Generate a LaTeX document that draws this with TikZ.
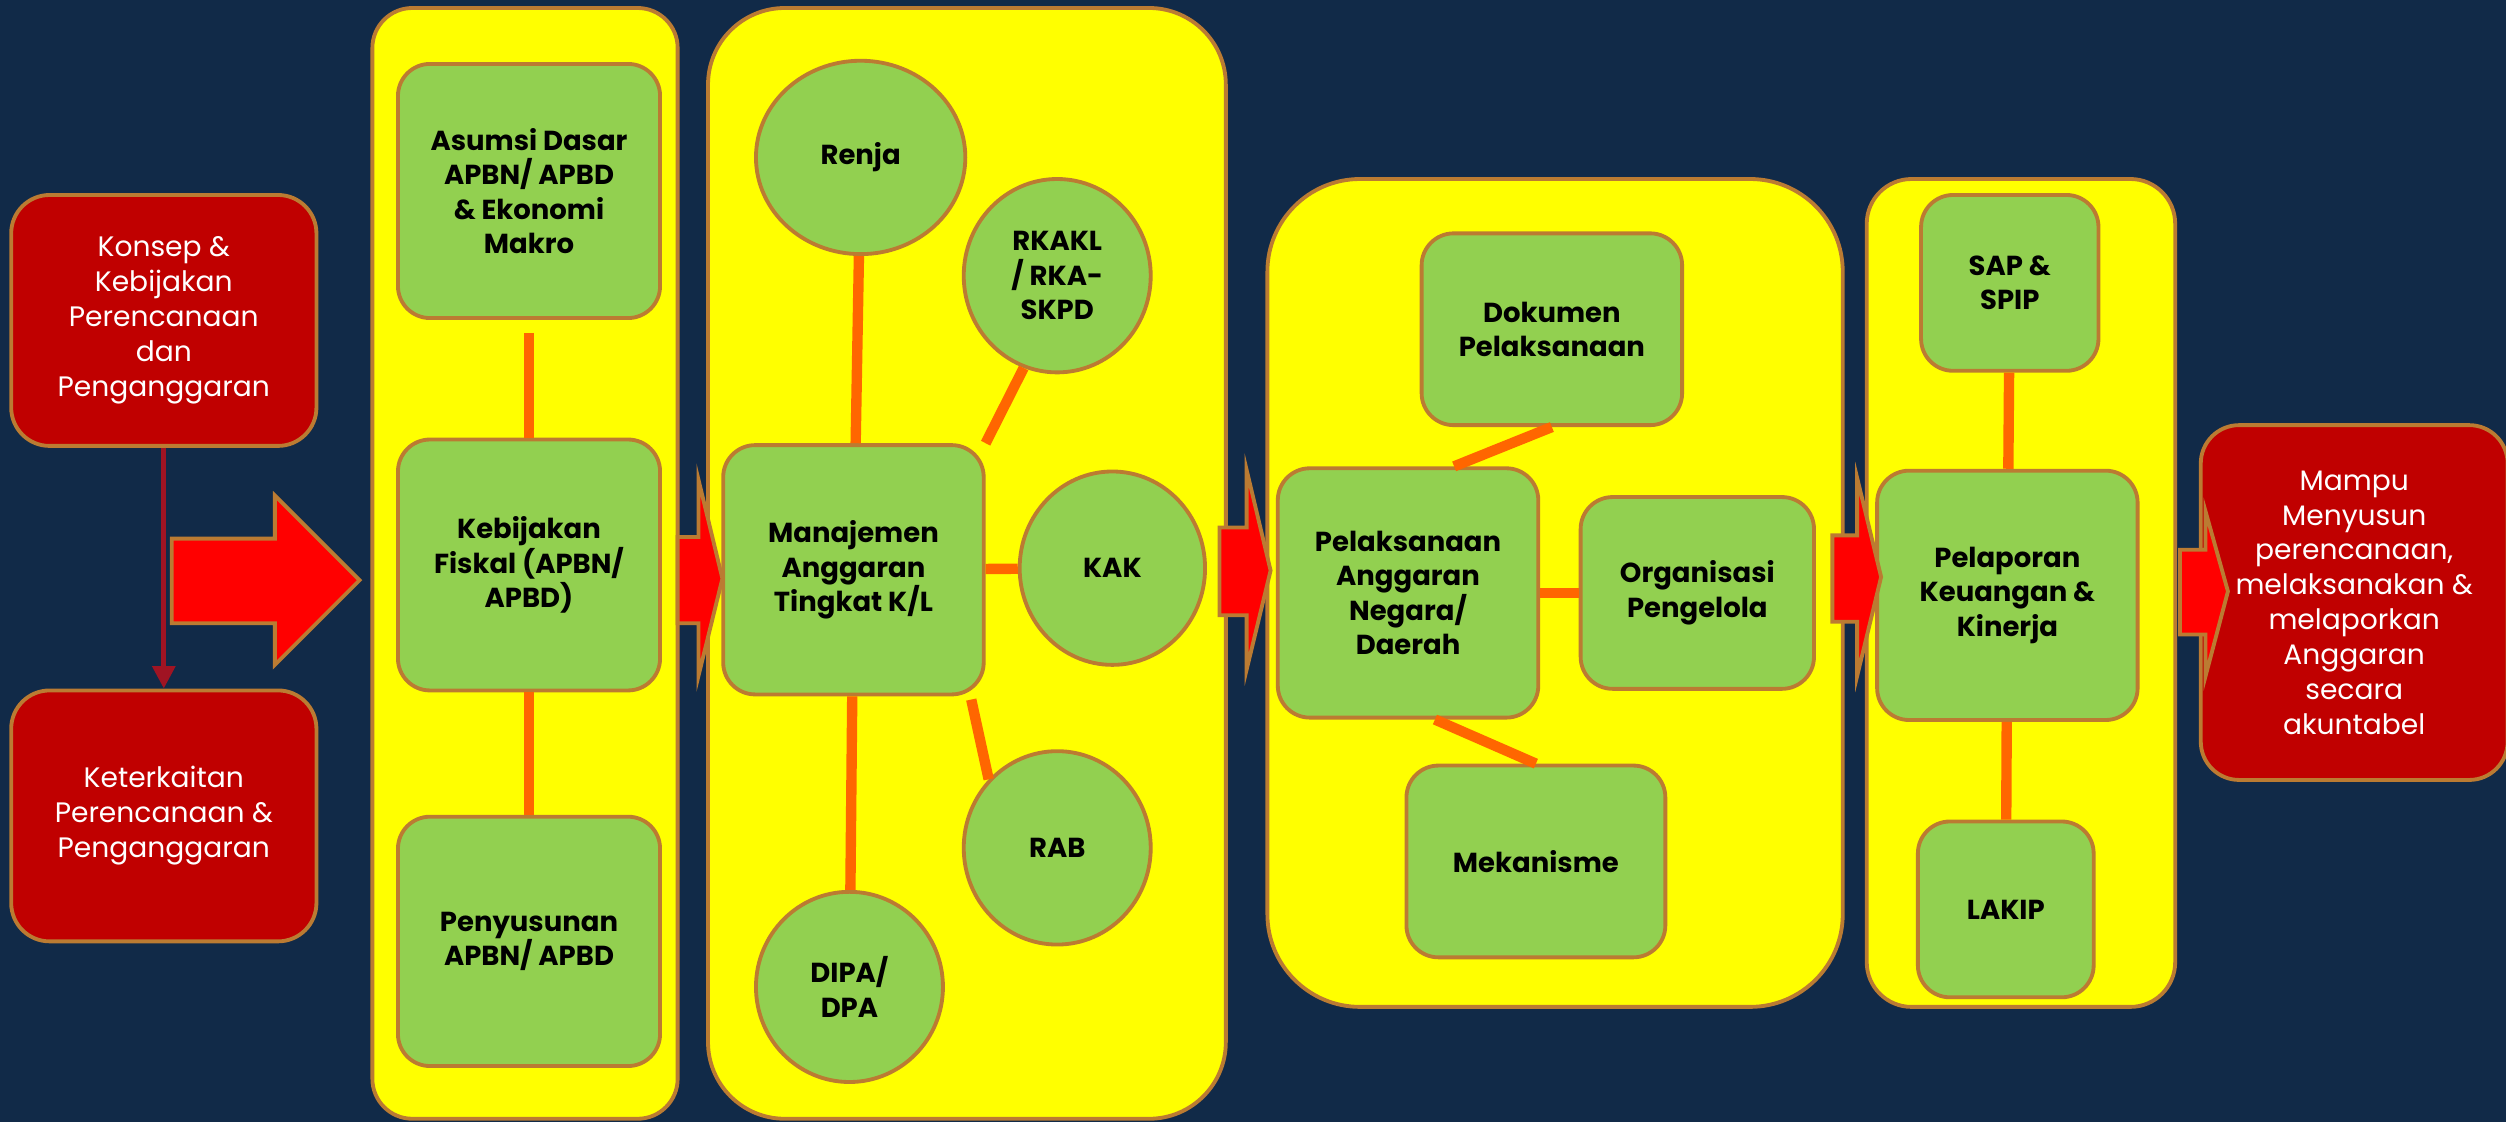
\documentclass[tikz,border=0pt]{standalone}
\usepackage{fontspec}
\setmainfont{Poppins}
\usetikzlibrary{calc,arrows.meta,shapes.geometric}
\definecolor{navy}{RGB}{17,42,72}
\definecolor{brn}{RGB}{187,123,50}
\definecolor{yel}{RGB}{255,255,0}
\definecolor{grn}{RGB}{146,208,80}
\definecolor{dred}{RGB}{192,0,0}
\definecolor{ared}{RGB}{255,0,0}
\definecolor{orng}{RGB}{255,102,0}
\definecolor{vred}{RGB}{160,20,35}
\begin{document}
\begin{tikzpicture}[x=1pt,y=-1pt,
 bord/.style={draw=brn,line width=2.4pt},
 panel/.style={bord,fill=yel},
 gtext/.style={align=center,inner sep=0pt,text=black,font=\bfseries\fontsize{17.2}{21.5}\selectfont},
 gbox/.style={bord,fill=grn,rounded corners=20pt,gtext},
 gell/.style={bord,fill=grn,ellipse,gtext},
 rbox/.style={bord,fill=dred,rounded corners=24pt,align=center,inner sep=0pt,text=white,font=\fontsize{17.6}{21.8}\selectfont},
 link/.style={draw=orng,line width=6.5pt},
 blk/.style={bord,fill=ared,line join=miter},
 sz/.style 2 args={minimum width=#1pt,minimum height=#2pt}]

\fill[navy] (0,0) rectangle (1568,702);
\useasboundingbox (0,0) rectangle (1568,702);

% panels
\draw[panel,rounded corners=25pt] (233,5) rectangle (424,700);
\draw[panel,rounded corners=48pt] (443,5) rectangle (767,700);
\draw[panel,rounded corners=58pt] (793,112) rectangle (1153,630);
\draw[panel,rounded corners=28pt] (1168,112) rectangle (1361,630);

% red boxes
\node[rbox,sz={191}{157}] (r1) at (102.5,200.5) {Konsep \&\\Kebijakan\\Perencanaan\\dan\\Penganggaran};
\node[rbox,sz={191}{157}] (r2) at (102.5,510.5) {Keterkaitan\\Perencanaan \&\\Penganggaran};
\node[rbox,sz={192}{222}] (goal) at (1473,377) {Mampu\\Menyusun\\perencanaan,\\melaksanakan \&\\melaporkan\\Anggaran\\secara\\akuntabel};

% panel 1
\node[gbox,sz={164}{159}] (asm) at (331,119.5) {Asumsi Dasar\\APBN/ APBD\\\& Ekonomi\\Makro};
\node[gbox,sz={164}{157}] (keb) at (331,353.5) {Kebijakan\\Fiskal (APBN/\\APBD)};
\node[gbox,sz={164}{156}] (pen) at (331,589) {Penyusunan\\APBN/ APBD};

% panel 2
\node[gbox,sz={163}{156}] (man) at (534,356.5) {Manajemen\\Anggaran\\Tingkat K/L};
\node[gell,sz={131}{121}] (renja) at (538.5,98.5) {Renja};
\node[gell,sz={117}{121}] (rkakl) at (661.5,172.5) {RKAKL\\/ RKA-\\SKPD};
\node[gell,sz={116}{121}] (kak) at (696,355.5) {KAK};
\node[gell,sz={117}{121}] (rab) at (661.5,530.5) {RAB};
\node[gell,sz={117}{119}] (dipa) at (531.5,617.5) {DIPA/\\DPA};

% panel 3
\node[gbox,sz={163}{120}] (dok) at (971,206) {Dokumen\\Pelaksanaan};
\node[gbox,sz={163}{156}] (pel) at (881,371) {Pelaksanaan\\Anggaran\\Negara/\\Daerah};
\node[gbox,sz={146}{120}] (org) at (1062,371) {Organisasi\\Pengelola};
\node[gbox,sz={162}{120}] (mek) at (961,539) {Mekanisme};

% panel 4
\node[gbox,sz={111}{110}] (sap) at (1257.5,177) {SAP \&\\SPIP};
\node[gbox,sz={163}{156}] (lap) at (1256,372.5) {Pelaporan\\Keuangan \&\\Kinerja};
\node[gbox,sz={110}{110}] (lakip) at (1255,569) {LAKIP};

% connectors
\draw[link,shorten <=8pt] (asm) -- (keb);
\draw[link] (keb) -- (pen);
\draw[link] (renja) -- (man);
\draw[link] (rkakl.250) -- (man.north east);
\draw[link] (kak) -- (man);
\draw[link] ($(man.south east)+(-9,2)$) -- (rab.135);
\draw[link] (dipa) -- (man);
\draw[link] (dok.south) -- (pel.70);
\draw[link] (pel) -- (org);
\draw[link] (pel.-78) -- (mek.north);
\draw[link] (sap) -- (lap);
\draw[link] (lap) -- (lakip);

\draw[vred,line width=3pt,-{Triangle[width=14pt,length=14pt]}] (r1.south) -- (r2.north);

% block arrows
\draw[blk] (107.5,337) -- (172,337) -- (172,310) -- (225,363) -- (172,416) -- (172,390) -- (107.5,390) -- cycle;
\draw[blk] (424,336) -- (437,336) -- (437,300) -- (452,362) -- (437,423) -- (437,390) -- (424,390) -- cycle;
\draw[blk] (763,330) -- (780,330) -- (780,294) -- (795,357) -- (780,419) -- (780,385) -- (763,385) -- cycle;
\draw[blk] (1146.5,335) -- (1162,335) -- (1162,299) -- (1177,361) -- (1162,423) -- (1162,389) -- (1146.5,389) -- cycle;
\draw[blk] (1364,344) -- (1380,344) -- (1380,320) -- (1394,370) -- (1380,423) -- (1380,397) -- (1364,397) -- cycle;
\end{tikzpicture}
\end{document}
